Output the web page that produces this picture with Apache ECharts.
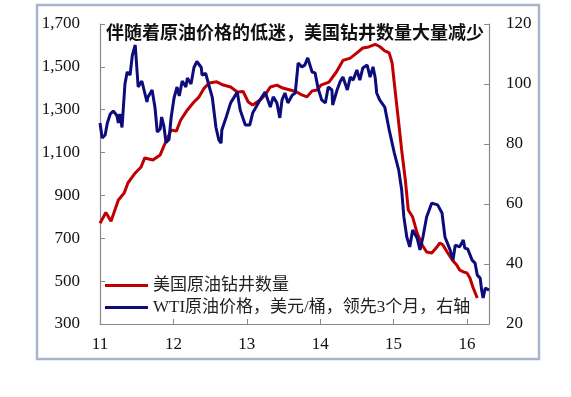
<!DOCTYPE html>
<html style="height: 100%">
  <head>
    <meta charset="UTF-8" />
    <title>美国钻井数量与油价</title>
    <script src="https://cdn.jsdelivr.net/npm/echarts@6/dist/echarts.min.js"></script>
  </head>
  <body style="height: 100%; margin: 0; background: #fff">
    <div id="main" style="width: 571px; height: 397px"></div>
    <script>
      // x 用小数年份表示（2011.5 = 2011 年年中）
      const rigDates = [
        2011.0, 2011.08, 2011.15, 2011.25, 2011.33, 2011.38, 2011.48, 2011.56, 2011.61, 2011.72,
        2011.82, 2011.87, 2011.97, 2012.04, 2012.1, 2012.19, 2012.28, 2012.35, 2012.42, 2012.49,
        2012.59, 2012.68, 2012.78, 2012.87, 2012.95, 2013.02, 2013.08, 2013.18, 2013.25, 2013.32,
        2013.41, 2013.49, 2013.59, 2013.68, 2013.75, 2013.82, 2013.89, 2013.96, 2014.01, 2014.12,
        2014.22, 2014.31, 2014.41, 2014.5, 2014.58, 2014.66, 2014.75, 2014.81, 2014.88, 2014.94,
        2014.98, 2015.02, 2015.07, 2015.11, 2015.16, 2015.2, 2015.26, 2015.32, 2015.39, 2015.45,
        2015.52, 2015.59, 2015.63, 2015.67, 2015.73, 2015.8, 2015.86, 2015.9, 2015.95, 2016.0,
        2016.04, 2016.08, 2016.14
      ]
      const rigCount = [
        770, 820, 780, 879, 911, 958, 1005, 1033, 1075, 1065,
        1089, 1130, 1205, 1200, 1252, 1299, 1336, 1360, 1401, 1425,
        1430, 1415, 1406, 1383, 1385, 1336, 1322, 1345, 1369, 1406,
        1415, 1401, 1392, 1383, 1369, 1360, 1388, 1392, 1415, 1429,
        1476, 1530, 1541, 1565, 1588, 1593, 1605, 1595, 1575, 1565,
        1518, 1392, 1238, 1112, 972, 832, 799, 725, 669, 636,
        631, 659, 678, 670, 636, 599, 575, 552, 543, 538,
        515, 473, 421
      ]

      const wtiDates = [
        2011.0, 2011.03, 2011.07, 2011.1, 2011.14, 2011.18, 2011.23, 2011.25, 2011.27, 2011.3,
        2011.31, 2011.34, 2011.37, 2011.41, 2011.44, 2011.45, 2011.48, 2011.5, 2011.52, 2011.57,
        2011.59, 2011.64, 2011.65, 2011.71, 2011.75, 2011.78, 2011.82, 2011.84, 2011.87, 2011.9,
        2011.94, 2011.97, 2012.01, 2012.05, 2012.08, 2012.12, 2012.17, 2012.19, 2012.24, 2012.28,
        2012.32, 2012.38, 2012.39, 2012.44, 2012.49, 2012.53, 2012.58, 2012.62, 2012.65, 2012.66,
        2012.72, 2012.73, 2012.78, 2012.87, 2012.91, 2012.98, 2013.04, 2013.08, 2013.18, 2013.25,
        2013.32, 2013.36, 2013.41, 2013.45, 2013.48, 2013.52, 2013.56, 2013.62, 2013.66, 2013.7,
        2013.75, 2013.79, 2013.83, 2013.89, 2013.93, 2013.97, 2014.02, 2014.07, 2014.11, 2014.16,
        2014.17, 2014.23, 2014.27, 2014.31, 2014.37, 2014.41, 2014.45, 2014.5, 2014.54, 2014.58,
        2014.64, 2014.68, 2014.72, 2014.75, 2014.77, 2014.81, 2014.88, 2014.94, 2015.01, 2015.07,
        2015.11, 2015.14, 2015.18, 2015.22, 2015.26, 2015.32, 2015.36, 2015.4, 2015.45, 2015.52,
        2015.6, 2015.66, 2015.7, 2015.77, 2015.81, 2015.84, 2015.9, 2015.95, 2015.97, 2016.01,
        2016.07, 2016.11, 2016.14, 2016.18, 2016.2, 2016.22, 2016.25, 2016.3
      ]
      const wtiPrice = [
        87, 82, 83, 87, 90, 91, 89.5, 87, 90, 85.5,
        86, 100, 104, 103, 109.5, 109, 113, 106, 99, 101,
        99, 94, 95.5, 98, 92, 84, 85, 89, 86, 80.5,
        81.5, 89, 95.5, 99, 96, 101, 99, 102, 100, 105.5,
        107.5, 105.5, 103, 103.5, 99, 95.5, 85.5, 81.3, 80.3, 84.7,
        89, 88.7, 93.7, 97.3, 91.3, 86.3, 86.3, 90.3, 94.7, 97.3,
        92.3, 95.7, 93.7, 88.7, 94.7, 97, 93.7, 96.3, 97, 107,
        105.7, 106.3, 108.7, 104, 103.7, 98.7, 94.7, 93.7, 99, 98,
        93, 98, 100.7, 102.3, 98, 102.3, 101.3, 104.7, 101.3, 105.3,
        106.3, 102.3, 105.7, 102, 97, 94.7, 92.3, 84.7, 77, 71.3,
        64.7, 55.7, 49, 45.7, 51.3, 48.7, 44.7, 49, 55.7, 60.3,
        59.7, 57, 49, 44.7, 41.3, 46.3, 45.7, 48, 45.3, 45,
        41.3, 40.3, 36.3, 35.3, 31.3, 28.7, 32, 31.3
      ]

      const titleText = '伴随着原油价格的低迷，美国钻井数量大量减少'
      const rigName = '美国原油钻井数量'
      const wtiName = 'WTI原油价格，美元/桶，领先3个月，右轴'

      const serif = "'Liberation Serif', 'Times New Roman', 'Noto Sans CJK SC', serif"
      const axisColor = '#888'

      const chart = echarts.init(document.getElementById('main'))

      const option = {
        animation: false,
        backgroundColor: '#fff',
        grid: {
          left: 100,
          right: 82,
          top: 24,
          bottom: 73,
        },
        legend: {
          orient: 'vertical',
          left: 100,
          top: 272,
          icon: 'rect',
          itemWidth: 43,
          itemHeight: 3,
          itemGap: 5,
          textStyle: {
            fontFamily: serif,
            fontSize: 17,
            lineHeight: 17,
            color: '#222',
          },
          data: [rigName, wtiName],
        },
        graphic: [
          {
            type: 'rect',
            shape: { x: 37, y: 5, width: 502, height: 354 },
            style: { fill: 'none', stroke: '#a7b4cb', lineWidth: 2.5 },
            silent: true,
          },
          {
            type: 'text',
            left: 106,
            top: 23,
            style: {
              text: titleText,
              fontFamily: "'Noto Sans CJK SC', sans-serif",
              fontWeight: 'bold',
              fontSize: 18,
              fill: '#111',
            },
          },
        ],
        xAxis: {
          type: 'value',
          min: 2011,
          max: 2016.3,
          interval: 1,
          splitLine: { show: false },
          axisLine: { lineStyle: { color: axisColor, width: 1.2 } },
          axisTick: { inside: true, length: 5, lineStyle: { color: axisColor } },
          axisLabel: {
            margin: 12,
            fontFamily: serif,
            fontSize: 17,
            color: '#111',
            formatter: (v) => (Number.isInteger(v) ? String(v - 2000) : ''),
          },
        },
        yAxis: [
          {
            type: 'value',
            min: 300,
            max: 1700,
            interval: 200,
            splitLine: { show: false },
            axisLine: { show: true, lineStyle: { color: axisColor, width: 1.2 } },
            axisTick: { show: true, inside: true, length: 5, lineStyle: { color: axisColor } },
            axisLabel: {
              margin: 20,
              fontFamily: serif,
              fontSize: 17,
              color: '#111',
              formatter: (v) => v.toLocaleString('en-US'),
            },
          },
          {
            type: 'value',
            min: 20,
            max: 120,
            interval: 20,
            splitLine: { show: false },
            axisLine: { show: true, lineStyle: { color: axisColor, width: 1.2 } },
            axisTick: { show: true, inside: true, length: 5, lineStyle: { color: axisColor } },
            axisLabel: {
              margin: 17,
              fontFamily: serif,
              fontSize: 17,
              color: '#111',
            },
          },
        ],
        series: [
          {
            name: rigName,
            type: 'line',
            yAxisIndex: 0,
            showSymbol: false,
            color: '#c00000',
            lineStyle: { width: 3, color: '#c00000' },
            data: rigDates.map((d, i) => [d, rigCount[i]]),
          },
          {
            name: wtiName,
            type: 'line',
            yAxisIndex: 1,
            showSymbol: false,
            color: '#0c0c7c',
            lineStyle: { width: 3, color: '#0c0c7c' },
            data: wtiDates.map((d, i) => [d, wtiPrice[i]]),
          },
        ],
      }

      chart.setOption(option)
    </script>
  </body>
</html>
